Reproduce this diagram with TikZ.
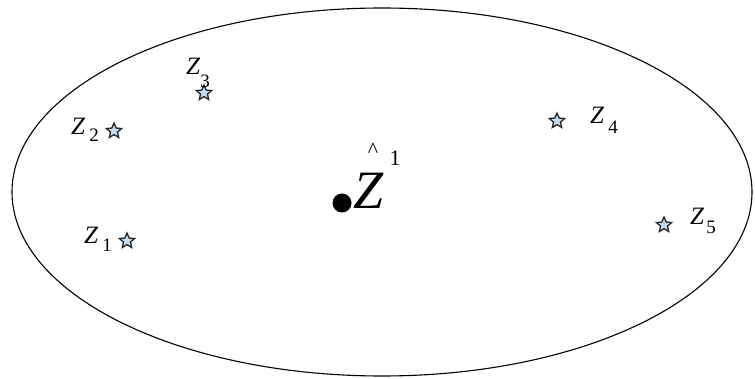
\documentclass[tikz,border=0pt]{standalone}
\usepackage{fontspec}
\setmainfont{Liberation Serif}
\usetikzlibrary{shapes.geometric}
\definecolor{starfill}{RGB}{196,220,240}
\begin{document}
\begin{tikzpicture}[x=1pt,y=-1pt,
  pt/.style={star,star points=5,star point ratio=2.2,minimum size=16pt,inner sep=0pt,draw=black!85,line width=1.3pt,fill=starfill},
  lab/.style={inner sep=0pt,font=\fontsize{25}{25}\selectfont\itshape},
  sub/.style={inner sep=0pt,font=\fontsize{19}{19}\selectfont}]
\useasboundingbox (0,0) rectangle (755,379);
\node[draw,ellipse,line width=1.1pt,minimum width=740pt,minimum height=368pt,inner sep=0pt] (E) at (382,192) {};
% points
\node[pt] (s1) at (127,241) {};
\node[pt] (s2) at (114,131) {};
\node[pt] (s3) at (204,93) {};
\node[pt] (s4) at (557,121) {};
\node[pt] (s5) at (664,225) {};
% labels
\node[lab] (z1) at (91,235) {Z};
\node[sub] (n1) at (107,245) {1};
\node[lab] (z2) at (78,126) {Z};
\node[sub] (n2) at (94,135) {2};
\node[lab] (z3) at (193,66) {Z};
\node[sub] (n3) at (205,81) {3};
\node[lab] (z4) at (597,115) {Z};
\node[sub] (n4) at (613,127) {4};
\node[lab] (z5) at (697,216) {Z};
\node[sub] (n5) at (711,227) {5};
% centre
\node[circle,fill=black,minimum size=19pt,inner sep=0pt] (c) at (342,203) {};
\node[inner sep=0pt,font=\fontsize{54}{54}\selectfont\itshape] (Z) at (369,191) {Z};
\node[inner sep=0pt,font=\fontsize{22}{22}\selectfont] (hat) at (373,150) {\^{}};
\node[inner sep=0pt,font=\fontsize{22}{22}\selectfont] (one) at (395,158) {1};
\end{tikzpicture}
\end{document}
